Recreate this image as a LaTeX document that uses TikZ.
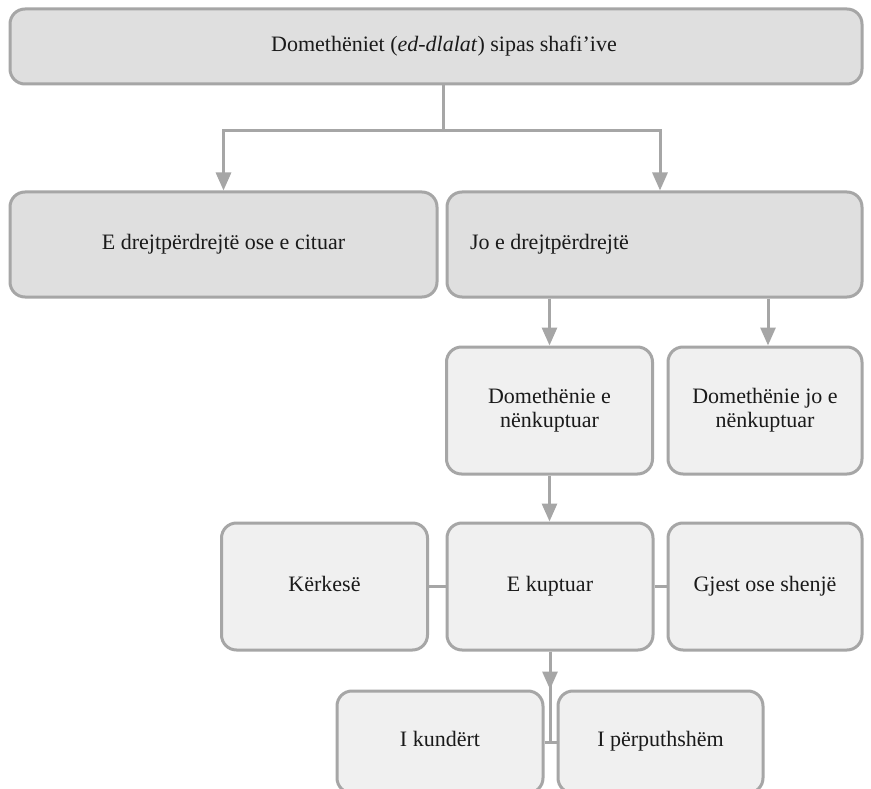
\documentclass[tikz,border=0pt]{standalone}
\usepackage{fontspec}
\setmainfont{Liberation Serif}
\usetikzlibrary{arrows.meta}
\definecolor{edge}{HTML}{A6A6A6}
\definecolor{fillA}{HTML}{DFDFDF}
\definecolor{fillB}{HTML}{F0F0F0}
\definecolor{ink}{HTML}{1A1A1A}
% a line of box text with a fixed height and depth
\newcommand{\boxline}[1]{\strut#1}
\begin{document}
\begin{tikzpicture}[x=1pt,y=-1pt,
  box/.style={draw=edge, line width=3pt, rounded corners=15pt, text=ink,
    font=\fontsize{22}{24.5}\selectfont, align=center, inner sep=0pt},
  mainbox/.style={box, fill=fillA},
  subbox/.style={box, fill=fillB, minimum width=206pt, minimum height=127pt},
  caption/.style={text=ink, font=\fontsize{22}{24.5}\selectfont, inner sep=0pt},
  link/.style={draw=edge, line width=3pt},
  arr/.style={link, -{Triangle[length=18pt,width=15pt]}}]
\useasboundingbox[fill=white] (0,0) rectangle (871,789);

% first level
\node[mainbox, minimum width=852pt, minimum height=75pt] (top) at (436,46.5) {};
\node[caption] (toplbl) at (444,46.5)
  {\boxline{Domethëniet (\textit{ed-dlalat}) sipas shafi’ive}};

% second level
\node[mainbox, minimum width=427pt, minimum height=105pt] (direct) at (223.5,244.5)
  {\boxline{E drejtpërdrejtë ose e cituar}};
\node[mainbox, minimum width=415pt, minimum height=105pt] (indirect) at (654.5,244.5) {};
\node[caption] (indirectlbl) at (549.5,244.5) {\boxline{Jo e drejtpërdrejtë}};

% third level
\node[subbox] (implied) at (549.5,410.5) {\boxline{Domethënie e}\\\boxline{nënkuptuar}};
\node[subbox, minimum width=194pt] (notimplied) at (765,410.5) {\boxline{Domethënie jo e}\\\boxline{nënkuptuar}};

% fourth level
\node[subbox] (request) at (324.5,586.5) {\boxline{Kërkesë}};
\node[subbox] (understood) at (550,586.5) {\boxline{E kuptuar}};
\node[subbox, minimum width=194pt] (gesture) at (765,586.5) {\boxline{Gjest ose shenjë}};

% fifth level
\node[subbox, minimum height=102pt] (opposite) at (440,742) {\boxline{I kundërt}};
\node[subbox, minimum width=205pt, minimum height=102pt] (consistent) at (660.5,742) {\boxline{I përputhshëm}};

% connectors
\coordinate (split) at (443,131);
\draw[link] (top.south -| split) -- (split);
\draw[arr] (split) -| (direct.north);
\draw[arr] (split) -| ([xshift=5.5pt]indirect.north);

\draw[arr] (implied.north |- indirect.south) -- (implied.north);
\draw[arr] ([xshift=3pt]notimplied.north |- indirect.south) -- ([xshift=3pt]notimplied.north);

\draw[arr] (implied.south) -- (implied.south |- understood.north);
\draw[link] (request.east) -- (understood.west);
\draw[link] (understood.east) -- (gesture.west);

\coordinate (meet) at (understood.south |- opposite.east);
\draw[arr] (understood.south) -- (understood.south |- opposite.north);
\draw[link] (understood.south) -- (meet);
\draw[link] (opposite.east) -- (meet) -- (consistent.west);
\end{tikzpicture}
\end{document}
